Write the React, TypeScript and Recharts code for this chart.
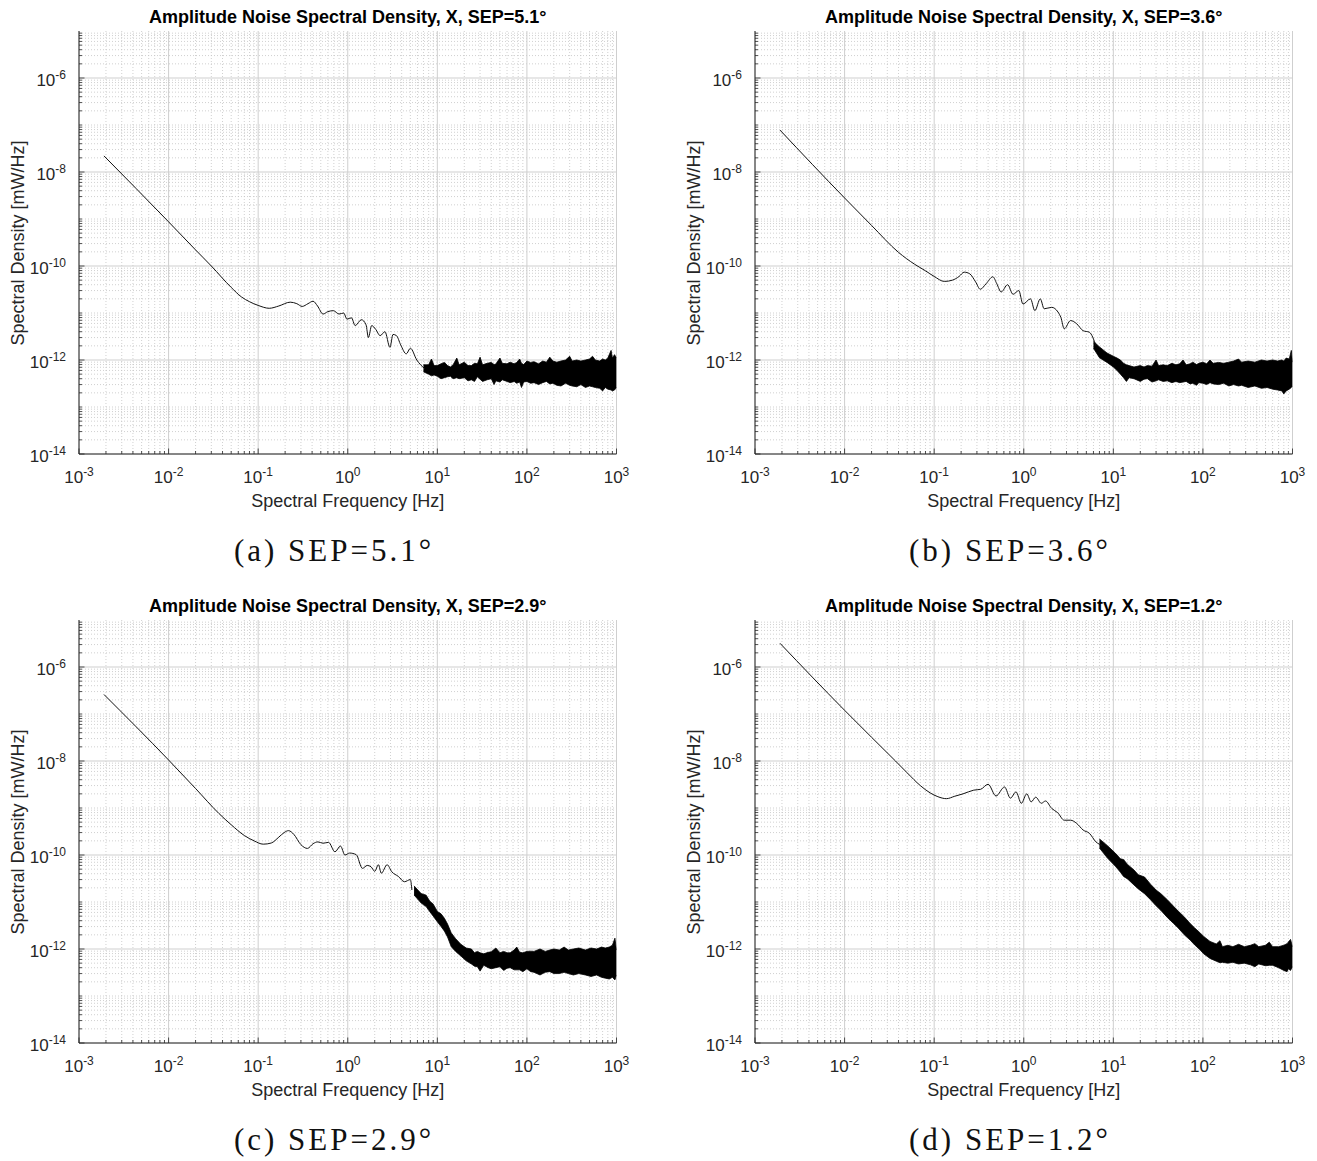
import React from 'react';
import { ComposedChart, Line, Area, XAxis, YAxis, CartesianGrid } from 'recharts';

// ---------------- styling constants ----------------
const FONT = '"Liberation Sans", Arial, Helvetica, sans-serif';
const SERIF = '"Liberation Serif", "Times New Roman", serif';
const AXIS_COLOR = '#262626';
const MAJOR_GRID = '#cfcfcf';
const MINOR_GRID = '#c4c4c4';
const CURVE = '#111111';

// ---------------- axis ticks ----------------
const X_MAJOR = [0.001, 0.01, 0.1, 1, 10, 100, 1000];
const Y_MAJOR = [1e-14, 1e-12, 1e-10, 1e-8, 1e-6];
const SUB_STEPS = [2, 3, 4, 5, 6, 7, 8, 9];
const X_DECADES = [0.001, 0.01, 0.1, 1, 10, 100];
const Y_DECADES = [1e-14, 1e-13, 1e-12, 1e-11, 1e-10, 1e-9, 1e-8, 1e-7, 1e-6];
const Y_ODD_DECADES = [1e-13, 1e-11, 1e-9, 1e-7];
const X_MINOR = X_DECADES.flatMap((d) => SUB_STEPS.map((m) => Number((m * d).toPrecision(3))));
const Y_MINOR = [
  ...Y_ODD_DECADES,
  ...Y_DECADES.flatMap((d) => SUB_STEPS.map((m) => Number((m * d).toPrecision(3)))),
];
const X_TICKS = [...X_MAJOR, ...X_MINOR].sort((a, b) => a - b);
const Y_TICKS = [...Y_MAJOR, ...Y_MINOR].sort((a, b) => a - b);
const X_DOMAIN = [0.001, 1000];
const Y_DOMAIN = [1e-14, 1e-5];

// ---------------- panel (a) SEP=5.1° ----------------
const freqA = [0.0019, 0.01, 0.02, 0.03, 0.05, 0.065, 0.08, 0.1, 0.133, 0.17, 0.228, 0.27, 0.31, 0.36, 0.41, 0.46, 0.53, 0.6, 0.69, 0.8, 0.9, 0.98, 1.1, 1.21, 1.42, 1.6, 1.7, 1.85, 2.05, 2.3, 2.6, 2.96, 3.2, 3.5, 3.9, 4.5, 5.0, 5.9, 6.5, 7.3];
const psdA = [2.2e-8, 8.7e-10, 2.2e-10, 1.0e-10, 3.5e-11, 2.2e-11, 1.74e-11, 1.45e-11, 1.26e-11, 1.41e-11, 1.7e-11, 1.58e-11, 1.38e-11, 1.58e-11, 1.78e-11, 1.41e-11, 9.5e-12, 1.07e-11, 1.12e-11, 9.5e-12, 1.0e-11, 7.4e-12, 7.9e-12, 5.4e-12, 7.2e-12, 5.6e-12, 3.0e-12, 5.4e-12, 4.5e-12, 3.3e-12, 4.0e-12, 1.86e-12, 3.5e-12, 3.3e-12, 2.1e-12, 1.35e-12, 1.78e-12, 1.0e-12, 7.9e-13, 6.5e-13];
const bandFreqA = [7, 8, 8.6, 9.2, 10, 11, 12, 13, 14, 15, 16.5, 17.5, 20, 22, 24, 26, 28, 30, 32, 36, 40, 43, 45, 50, 53, 60, 65, 72, 77, 83, 87, 92, 100, 110, 120, 135, 150, 165, 180, 195, 215, 240, 270, 300, 320, 360, 400, 450, 500, 540, 580, 650, 700, 750, 800, 870, 900, 950, 1000];
const bandLoA = [5.6e-13, 5.0e-13, 4.6e-13, 4.8e-13, 4.5e-13, 4.0e-13, 4.2e-13, 4.4e-13, 4.5e-13, 4.0e-13, 4.2e-13, 4.0e-13, 4.2e-13, 3.6e-13, 3.8e-13, 3.5e-13, 4.4e-13, 3.9e-13, 3.5e-13, 3.8e-13, 4.0e-13, 3.0e-13, 3.6e-13, 3.4e-13, 3.8e-13, 3.5e-13, 3.3e-13, 3.5e-13, 3.2e-13, 3.4e-13, 2.6e-13, 3.4e-13, 3.5e-13, 3.2e-13, 3.3e-13, 3.0e-13, 3.3e-13, 3.5e-13, 3.1e-13, 3.2e-13, 2.9e-13, 2.8e-13, 3.2e-13, 2.9e-13, 2.8e-13, 2.7e-13, 3.0e-13, 2.6e-13, 2.8e-13, 2.7e-13, 2.6e-13, 2.5e-13, 2.2e-13, 2.6e-13, 2.4e-13, 2.3e-13, 2.2e-13, 2.3e-13, 2.6e-13];
const bandHiA = [7.9e-13, 7.9e-13, 1.05e-12, 7.6e-13, 7.6e-13, 8.3e-13, 8.9e-13, 7.6e-13, 7.1e-13, 7.9e-13, 1.1e-12, 7.9e-13, 9.0e-13, 7.6e-13, 7.6e-13, 8.5e-13, 8.3e-13, 1.15e-12, 7.9e-13, 8.5e-13, 8.9e-13, 8.0e-13, 8.2e-13, 1.1e-12, 8.5e-13, 8.3e-13, 9.0e-13, 8.3e-13, 8.9e-13, 1.05e-12, 8.5e-13, 8.0e-13, 9.5e-13, 8.9e-13, 9.2e-13, 8.3e-13, 9.5e-13, 9.0e-13, 1.15e-12, 9.5e-13, 9.0e-13, 9.5e-13, 1.0e-12, 1.2e-12, 9.5e-13, 1.0e-12, 9.5e-13, 1.0e-12, 1.05e-12, 1.2e-12, 1.0e-12, 9.5e-13, 1.05e-12, 1.0e-12, 1.1e-12, 1.6e-12, 1.1e-12, 1.3e-12, 1.1e-12];

// ---------------- panel (b) SEP=3.6° ----------------
const freqB = [0.0019, 0.01, 0.02, 0.04, 0.06, 0.08, 0.1, 0.13, 0.16, 0.19, 0.216, 0.25, 0.29, 0.327, 0.38, 0.452, 0.5, 0.56, 0.66, 0.76, 0.88, 0.98, 1.19, 1.33, 1.53, 1.69, 2.05, 2.41, 2.6, 2.83, 3.33, 3.9, 4.6, 5.4, 6.4];
const psdB = [7.8e-8, 2.8e-9, 7.3e-10, 1.95e-10, 1.1e-10, 7.9e-11, 6.0e-11, 4.7e-11, 5.0e-11, 6.0e-11, 7.4e-11, 6.8e-11, 4.6e-11, 3.2e-11, 4.2e-11, 5.9e-11, 4.2e-11, 2.8e-11, 4.0e-11, 2.5e-11, 3.0e-11, 1.55e-11, 2.0e-11, 1.12e-11, 2.0e-11, 1.23e-11, 1.32e-11, 1.05e-11, 8.0e-12, 4.6e-12, 6.9e-12, 5.9e-12, 4.2e-12, 3.9e-12, 2.0e-12];
const bandFreqB = [6, 7, 8.5, 10, 11, 12, 13, 14, 15, 17, 20, 22, 24, 27, 30, 32, 36, 40, 45, 50, 55, 60, 65, 72, 77, 85, 90, 100, 110, 120, 130, 150, 170, 195, 220, 250, 270, 320, 380, 450, 520, 600, 680, 760, 800, 850, 920, 970, 1000];
const bandLoB = [1.78e-12, 1.12e-12, 8.9e-13, 7.1e-13, 6.0e-13, 5.0e-13, 4.2e-13, 3.5e-13, 4.2e-13, 4.0e-13, 3.5e-13, 3.9e-13, 4.0e-13, 3.4e-13, 3.6e-13, 3.8e-13, 3.5e-13, 3.6e-13, 3.3e-13, 3.5e-13, 3.3e-13, 3.4e-13, 3.5e-13, 3.1e-13, 3.2e-13, 2.9e-13, 3.3e-13, 3.2e-13, 3.0e-13, 3.3e-13, 3.1e-13, 3.0e-13, 3.2e-13, 2.8e-13, 3.0e-13, 2.8e-13, 2.9e-13, 2.6e-13, 2.8e-13, 2.5e-13, 2.6e-13, 2.4e-13, 2.3e-13, 2.2e-13, 1.9e-13, 2.2e-13, 2.4e-13, 2.6e-13, 2.8e-13];
const bandHiB = [2.5e-12, 1.9e-12, 1.41e-12, 1.2e-12, 1.1e-12, 1.0e-12, 8.5e-13, 7.9e-13, 7.6e-13, 7.1e-13, 7.6e-13, 7.1e-13, 7.6e-13, 7.4e-13, 1.0e-12, 7.6e-13, 7.9e-13, 7.6e-13, 8.5e-13, 7.9e-13, 8.3e-13, 1.0e-12, 7.9e-13, 8.3e-13, 9.0e-13, 8.0e-13, 8.5e-13, 9.0e-13, 8.3e-13, 1.0e-12, 8.5e-13, 8.9e-13, 8.5e-13, 9.0e-13, 9.5e-13, 1.05e-12, 9.0e-13, 9.5e-13, 9.0e-13, 1.0e-12, 9.5e-13, 1.0e-12, 9.5e-13, 1.0e-12, 9.5e-13, 1.1e-12, 1.05e-12, 1.6e-12, 9.0e-13];

// ---------------- panel (c) SEP=2.9° ----------------
const freqC = [0.0019, 0.01, 0.02, 0.0366, 0.05, 0.07, 0.09, 0.114, 0.14, 0.17, 0.195, 0.218, 0.25, 0.3, 0.355, 0.41, 0.465, 0.53, 0.61, 0.72, 0.83, 0.93, 1.05, 1.24, 1.46, 1.65, 1.82, 2.0, 2.2, 2.37, 2.75, 3.1, 3.67, 4.3, 5.0, 5.2];
const psdC = [2.6e-7, 1.05e-8, 2.6e-9, 7.6e-10, 4.4e-10, 2.6e-10, 2.0e-10, 1.7e-10, 1.8e-10, 2.4e-10, 3.0e-10, 3.3e-10, 2.75e-10, 1.66e-10, 1.38e-10, 1.74e-10, 1.9e-10, 1.78e-10, 1.86e-10, 1.17e-10, 1.55e-10, 1.0e-10, 1.1e-10, 1.02e-10, 5.2e-11, 6.0e-11, 5.6e-11, 4.5e-11, 6.2e-11, 4.1e-11, 6.2e-11, 4.4e-11, 3.5e-11, 2.7e-11, 3.0e-11, 1.8e-11];
const bandFreqC = [5.5, 6.6, 7.5, 8.2, 9, 10, 11, 12, 13, 14.3, 16, 18.3, 21, 24, 26, 28, 30, 33, 37, 40, 45, 50, 55, 60, 65, 72, 77, 83, 90, 100, 110, 120, 140, 160, 180, 200, 230, 260, 290, 330, 380, 450, 520, 600, 680, 750, 830, 900, 960, 1000];
const bandLoC = [1.41e-11, 9.5e-12, 8.0e-12, 6.3e-12, 5.0e-12, 3.8e-12, 3.0e-12, 2.4e-12, 1.8e-12, 1.12e-12, 8.9e-13, 7.1e-13, 5.6e-13, 4.8e-13, 4.3e-13, 4.2e-13, 3.4e-13, 4.5e-13, 4.0e-13, 3.8e-13, 4.0e-13, 4.2e-13, 3.5e-13, 3.9e-13, 4.0e-13, 3.6e-13, 3.6e-13, 3.6e-13, 3.3e-13, 3.8e-13, 3.3e-13, 3.2e-13, 2.8e-13, 3.2e-13, 3.3e-13, 3.0e-13, 3.0e-13, 3.2e-13, 3.0e-13, 2.8e-13, 3.0e-13, 2.8e-13, 2.6e-13, 2.8e-13, 2.5e-13, 2.4e-13, 2.3e-13, 2.5e-13, 2.2e-13, 2.8e-13];
const bandHiC = [2.2e-11, 1.51e-11, 1.4e-11, 1.05e-11, 9.0e-12, 6.3e-12, 5.6e-12, 4.5e-12, 3.4e-12, 2.2e-12, 1.66e-12, 1.26e-12, 1.05e-12, 1.0e-12, 8.3e-13, 8.9e-13, 8.3e-13, 7.9e-13, 8.5e-13, 8.7e-13, 1.05e-12, 8.3e-13, 8.9e-13, 8.3e-13, 8.3e-13, 9.5e-13, 1.1e-12, 8.5e-13, 8.3e-13, 8.9e-13, 9.0e-13, 8.9e-13, 1.0e-12, 8.9e-13, 9.5e-13, 1.0e-12, 9.5e-13, 1.1e-12, 9.5e-13, 1.0e-12, 1.05e-12, 9.5e-13, 1.05e-12, 1.0e-12, 1.1e-12, 1.05e-12, 1.1e-12, 1.2e-12, 1.7e-12, 9.5e-13];

// ---------------- panel (d) SEP=1.2° ----------------
const freqD = [0.0019, 0.01, 0.02, 0.037, 0.05, 0.07, 0.09, 0.11, 0.137, 0.17, 0.21, 0.277, 0.33, 0.4, 0.49, 0.61, 0.71, 0.82, 0.94, 1.08, 1.21, 1.36, 1.57, 1.75, 2.05, 2.4, 2.83, 3.33, 3.9, 4.6, 5.4, 6.4, 7.5];
const psdD = [3.2e-6, 1.2e-7, 3.2e-8, 1.0e-8, 5.6e-9, 3.0e-9, 2.1e-9, 1.74e-9, 1.58e-9, 1.78e-9, 2.0e-9, 2.4e-9, 2.5e-9, 3.2e-9, 1.8e-9, 2.8e-9, 1.62e-9, 2.2e-9, 1.26e-9, 2.0e-9, 1.35e-9, 1.7e-9, 1.26e-9, 1.41e-9, 9.8e-10, 7.9e-10, 5.5e-10, 5.5e-10, 4.7e-10, 3.4e-10, 2.9e-10, 1.9e-10, 1.6e-10];
const bandFreqD = [7, 8.6, 10.5, 12, 13, 14.4, 17, 19, 22.3, 26, 30, 34, 40, 47, 53, 62, 72, 81, 92, 102, 120, 141, 155, 165, 190, 216, 250, 290, 340, 380, 420, 500, 550, 600, 700, 800, 870, 900, 950, 1000];
const bandLoD = [1.41e-10, 8.6e-11, 5.8e-11, 4.3e-11, 3.5e-11, 3.1e-11, 2.3e-11, 1.9e-11, 1.5e-11, 1.12e-11, 8.3e-12, 6.6e-12, 4.7e-12, 3.5e-12, 2.8e-12, 2.0e-12, 1.55e-12, 1.22e-12, 9.8e-13, 7.9e-13, 6.3e-13, 5.5e-13, 5.1e-13, 5.2e-13, 5.0e-13, 5.2e-13, 4.8e-13, 5.0e-13, 4.6e-13, 4.2e-13, 4.8e-13, 4.4e-13, 4.5e-13, 4.5e-13, 4.0e-13, 3.5e-13, 3.3e-13, 3.8e-13, 3.5e-13, 4.2e-13];
const bandHiD = [2.2e-10, 1.58e-10, 1.1e-10, 8.3e-11, 8.0e-11, 6.3e-11, 4.8e-11, 3.8e-11, 3.4e-11, 2.4e-11, 1.8e-11, 1.5e-11, 1.12e-11, 8.1e-12, 6.4e-12, 4.8e-12, 3.5e-12, 2.8e-12, 2.25e-12, 1.85e-12, 1.45e-12, 1.28e-12, 1.5e-12, 1.12e-12, 1.2e-12, 1.12e-12, 1.26e-12, 1.12e-12, 1.2e-12, 1.3e-12, 1.12e-12, 1.2e-12, 1.4e-12, 1.12e-12, 1.12e-12, 1.2e-12, 1.3e-12, 1.41e-12, 1.6e-12, 1.12e-12];

// ---------------- text ----------------
const TITLES = [
  'Amplitude Noise Spectral Density, X, SEP=5.1°',
  'Amplitude Noise Spectral Density, X, SEP=3.6°',
  'Amplitude Noise Spectral Density, X, SEP=2.9°',
  'Amplitude Noise Spectral Density, X, SEP=1.2°',
];
const CAPTIONS = ['(a) SEP=5.1°', '(b) SEP=3.6°', '(c) SEP=2.9°', '(d) SEP=1.2°'];
const X_LABEL = 'Spectral Frequency [Hz]';
const Y_LABEL = 'Spectral Density [mW/Hz]';

// ---------------- layout ----------------
const CHART_W = 640;
const CHART_H = 520;
const PLOT_LEFT = 79;
const PLOT_RIGHT = 616.5;
const PLOT_TOP = 31;
const X_AXIS_H = 50;
const BOTTOM_MARGIN = 16;
const MAJOR_LEN = 5.5;
const MINOR_LEN = 3;

const isMajor = (v: number, list: number[]) => list.some((m) => Math.abs(v / m - 1) < 1e-6);
const expOf = (v: number) => String(Math.round(Math.log10(v)));

const BottomTick = (p: any) => {
  const { x, y, payload } = p;
  const v = payload.value;
  const major = isMajor(v, X_MAJOR);
  return (
    <g>
      <line x1={x} x2={x} y1={y} y2={y - (major ? MAJOR_LEN : MINOR_LEN)} stroke={AXIS_COLOR} strokeWidth={0.8} />
      {major && (
        <text x={x} y={y + 29} textAnchor="middle" fontFamily={FONT} fontSize={17} fill={AXIS_COLOR}>
          10<tspan dy={-7.5} fontSize={12}>{expOf(v)}</tspan>
        </text>
      )}
    </g>
  );
};

const TopTick = (p: any) => {
  const { x, y, payload } = p;
  const major = isMajor(payload.value, X_MAJOR);
  return <line x1={x} x2={x} y1={y} y2={y + (major ? MAJOR_LEN : MINOR_LEN)} stroke={AXIS_COLOR} strokeWidth={0.8} />;
};

const LeftTick = (p: any) => {
  const { x, y, payload } = p;
  const v = payload.value;
  const major = isMajor(v, Y_MAJOR);
  return (
    <g>
      <line x1={x} x2={x + (major ? MAJOR_LEN : MINOR_LEN)} y1={y} y2={y} stroke={AXIS_COLOR} strokeWidth={0.8} />
      {major && (
        <text x={x - 13} y={y + 8} textAnchor="end" fontFamily={FONT} fontSize={17} fill={AXIS_COLOR}>
          10<tspan dy={-7.5} fontSize={12}>{expOf(v)}</tspan>
        </text>
      )}
    </g>
  );
};

const RightTick = (p: any) => {
  const { x, y, payload } = p;
  const major = isMajor(payload.value, Y_MAJOR);
  return <line x1={x} x2={x - (major ? MAJOR_LEN : MINOR_LEN)} y1={y} y2={y} stroke={AXIS_COLOR} strokeWidth={0.8} />;
};

type PanelProps = {
  left: number;
  top: number;
  title: string;
  caption: string;
  freq: number[];
  psd: number[];
  bandFreq: number[];
  bandLo: number[];
  bandHi: number[];
};

function Panel({ left, top, title, caption, freq, psd, bandFreq, bandLo, bandHi }: PanelProps) {
  const lineData = freq.slice(0, Math.min(freq.length, psd.length)).map((f, i) => ({ f, v: psd[i] }));
  const n = Math.min(bandFreq.length, bandLo.length, bandHi.length);
  const bandData = bandFreq.slice(0, n).map((f, i) => ({ f, range: [bandLo[i], bandHi[i]] }));
  const plotCenter = (PLOT_LEFT + PLOT_RIGHT) / 2;
  const plotBottom = CHART_H - BOTTOM_MARGIN - X_AXIS_H;
  return (
    <div style={{ position: 'absolute', left, top, width: CHART_W, height: 580 }}>
      <ComposedChart
        width={CHART_W}
        height={CHART_H}
        margin={{ top: PLOT_TOP, right: CHART_W - PLOT_RIGHT, bottom: BOTTOM_MARGIN, left: 0 }}
      >
        <CartesianGrid
          stroke={MINOR_GRID}
          strokeDasharray="1 2"
          strokeWidth={0.8}
          verticalValues={X_MINOR}
          horizontalValues={Y_MINOR}
        />
        <CartesianGrid
          stroke={MAJOR_GRID}
          strokeWidth={1}
          verticalValues={X_MAJOR}
          horizontalValues={Y_MAJOR}
        />
        <XAxis
          xAxisId={0}
          dataKey="f"
          type="number"
          scale="log"
          domain={X_DOMAIN}
          allowDataOverflow
          ticks={X_TICKS}
          interval={0}
          tickSize={0}
          tickMargin={0}
          tickLine={false}
          tick={BottomTick}
          height={X_AXIS_H}
          axisLine={{ stroke: AXIS_COLOR, strokeWidth: 1 }}
        />
        <XAxis
          xAxisId="top"
          orientation="top"
          dataKey="f"
          type="number"
          scale="log"
          domain={X_DOMAIN}
          allowDataOverflow
          ticks={X_TICKS}
          interval={0}
          tickSize={0}
          tickMargin={0}
          tickLine={false}
          tick={TopTick}
          height={0}
          axisLine={{ stroke: AXIS_COLOR, strokeWidth: 1 }}
        />
        <YAxis
          yAxisId={0}
          type="number"
          scale="log"
          domain={Y_DOMAIN}
          allowDataOverflow
          ticks={Y_TICKS}
          interval={0}
          tickSize={0}
          tickMargin={0}
          tickLine={false}
          tick={LeftTick}
          width={PLOT_LEFT}
          axisLine={{ stroke: AXIS_COLOR, strokeWidth: 1 }}
        />
        <YAxis
          yAxisId="right"
          orientation="right"
          type="number"
          scale="log"
          domain={Y_DOMAIN}
          allowDataOverflow
          ticks={Y_TICKS}
          interval={0}
          tickSize={0}
          tickMargin={0}
          tickLine={false}
          tick={RightTick}
          width={0}
          axisLine={{ stroke: AXIS_COLOR, strokeWidth: 1 }}
        />
        <Area
          data={bandData}
          dataKey="range"
          type="linear"
          stroke="#000000"
          strokeWidth={0.8}
          fill="#000000"
          fillOpacity={1}
          dot={false}
          activeDot={false}
          isAnimationActive={false}
        />
        <Line
          data={lineData}
          dataKey="v"
          type="monotone"
          stroke={CURVE}
          strokeWidth={1}
          dot={false}
          activeDot={false}
          isAnimationActive={false}
        />
      </ComposedChart>
      <div
        style={{
          position: 'absolute', left: plotCenter - 300, top: 7, width: 600, textAlign: 'center',
          fontFamily: FONT, fontWeight: 'bold', fontSize: 18, lineHeight: '20px', color: '#000', whiteSpace: 'nowrap',
        }}
      >
        {title}
      </div>
      <div
        style={{
          position: 'absolute', left: plotCenter - 200, top: plotBottom + 37, width: 400, textAlign: 'center',
          fontFamily: FONT, fontSize: 18, lineHeight: '20px', color: AXIS_COLOR, whiteSpace: 'nowrap',
        }}
      >
        {X_LABEL}
      </div>
      <div
        style={{
          position: 'absolute', left: 18 - 200, top: (PLOT_TOP + plotBottom) / 2 - 10, width: 400, textAlign: 'center',
          fontFamily: FONT, fontSize: 18, lineHeight: '20px', color: AXIS_COLOR, whiteSpace: 'nowrap',
          transform: 'rotate(-90deg)',
        }}
      >
        {Y_LABEL}
      </div>
      <div
        style={{
          position: 'absolute', left: 334 - 200, top: 551 - 18, width: 400, textAlign: 'center',
          fontFamily: SERIF, fontSize: 31, lineHeight: '36px', color: '#111', whiteSpace: 'nowrap', letterSpacing: 3,
        }}
      >
        {caption}
      </div>
    </div>
  );
}

export default function App() {
  return (
    <div style={{ position: 'absolute', left: 0, top: 0, width: 1317, height: 1161, background: '#ffffff', overflow: 'hidden' }}>
      <Panel left={0} top={0} title={TITLES[0]} caption={CAPTIONS[0]} freq={freqA} psd={psdA} bandFreq={bandFreqA} bandLo={bandLoA} bandHi={bandHiA} />
      <Panel left={676} top={0} title={TITLES[1]} caption={CAPTIONS[1]} freq={freqB} psd={psdB} bandFreq={bandFreqB} bandLo={bandLoB} bandHi={bandHiB} />
      <Panel left={0} top={589} title={TITLES[2]} caption={CAPTIONS[2]} freq={freqC} psd={psdC} bandFreq={bandFreqC} bandLo={bandLoC} bandHi={bandHiC} />
      <Panel left={676} top={589} title={TITLES[3]} caption={CAPTIONS[3]} freq={freqD} psd={psdD} bandFreq={bandFreqD} bandLo={bandLoD} bandHi={bandHiD} />
    </div>
  );
}
